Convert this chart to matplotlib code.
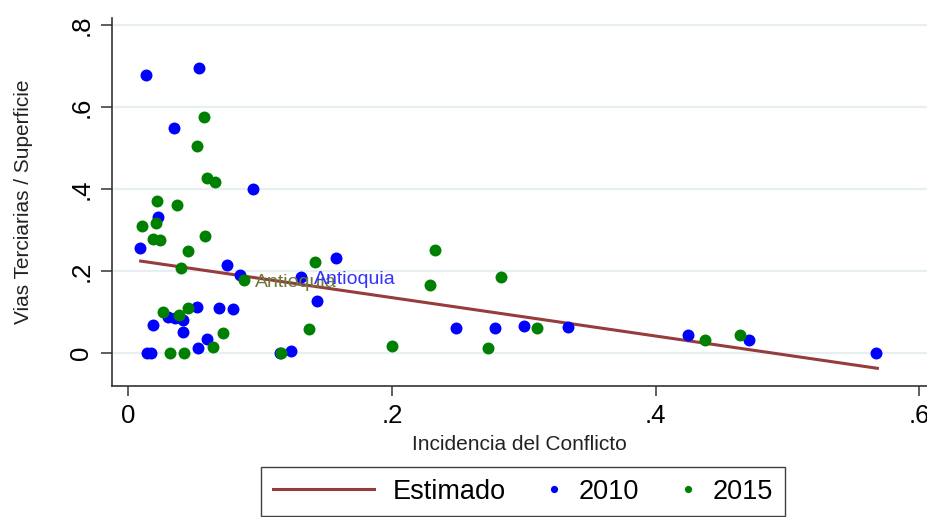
import numpy as np
import matplotlib
matplotlib.use("Agg")
import matplotlib.pyplot as plt
from matplotlib.legend_handler import HandlerLine2D

plt.rcParams["font.family"] = ["Liberation Sans", "DejaVu Sans"]

# 2010
x_2010 = [0.0134, 0.0536, 0.0347, 0.0945, 0.0223, 0.0089, 0.0746, 0.0847, 0.131, 0.1576,
          0.1429, 0.069, 0.0796, 0.0519, 0.0303, 0.0354, 0.0413, 0.0413, 0.019, 0.0599,
          0.0531, 0.014, 0.017, 0.115, 0.1232, 0.2486, 0.2781, 0.3004, 0.3338, 0.4243,
          0.4706, 0.5674]
y_2010 = [0.679, 0.696, 0.550, 0.401, 0.333, 0.256, 0.215, 0.191, 0.187, 0.232,
          0.128, 0.110, 0.108, 0.114, 0.089, 0.086, 0.081, 0.053, 0.069, 0.035,
          0.012, 0.0, 0.0, 0.0, 0.006, 0.061, 0.061, 0.067, 0.065, 0.045,
          0.032, 0.0]

# 2015
x_2015 = [0.0572, 0.0519, 0.0599, 0.0658, 0.022, 0.0367, 0.0102, 0.021, 0.0185, 0.024,
          0.0582, 0.0455, 0.040, 0.088, 0.0261, 0.0385, 0.0455, 0.0721, 0.064, 0.0316,
          0.0425, 0.1158, 0.1416, 0.2327, 0.2289, 0.1373, 0.1998, 0.2825, 0.2726, 0.3102,
          0.4375, 0.464]
y_2015 = [0.577, 0.506, 0.428, 0.417, 0.372, 0.362, 0.311, 0.317, 0.280, 0.276,
          0.286, 0.250, 0.207, 0.180, 0.101, 0.093, 0.110, 0.050, 0.016, 0.0,
          0.0, 0.0, 0.222, 0.252, 0.166, 0.059, 0.019, 0.187, 0.012, 0.061,
          0.032, 0.045]

# fitted line (Estimado)
est_x = [0.0094, 0.5682]
est_y = [0.225, -0.0366]

label_2010 = (0.131, 0.187)
label_2015 = (0.088, 0.180)

xticks = [0, 0.2, 0.4, 0.6]
xticklabels = ["0", ".2", ".4", ".6"]
yticks = [0, 0.2, 0.4, 0.6, 0.8]
yticklabels = ["0", ".2", ".4", ".6", ".8"]


class DotHandler(HandlerLine2D):
    def get_xdata(self, legend, xdescent, ydescent, width, height, fontsize):
        x = -xdescent + width - 0.25 * fontsize
        return np.array([x]), np.array([x])


def small_marker(legend_handle, orig_handle):
    legend_handle.update_from(orig_handle)
    legend_handle.set_markersize(5.2)


fig = plt.figure(figsize=(9.28, 5.17), dpi=100)
ax = fig.add_axes([0.1202, 0.254, 0.8798, 0.7112])

for t in yticks:
    ax.axhline(t, color="#e8eff2", lw=1.6, zorder=0)

line, = ax.plot(est_x, est_y, color="#963c3c", lw=2.2, zorder=2, label="Estimado")
blue, = ax.plot(x_2010, y_2010, "o", color="#0000ff", ms=8.6, mew=0, zorder=3, label="2010")
green, = ax.plot(x_2015, y_2015, "o", color="#008000", ms=8.6, mew=0, zorder=4, label="2015")

ax.annotate("Antioquia", label_2015, xytext=(8, -2), textcoords="offset points",
            va="center", ha="left", fontsize=14, color="#6b7b3a", zorder=5)
ax.annotate("Antioquia", label_2010, xytext=(9, -2), textcoords="offset points",
            va="center", ha="left", fontsize=14, color="#3333ff", zorder=6)

ax.set_xlim(-0.0127, 0.6066)
ax.set_ylim(-0.079, 0.818)

ax.set_xticks(xticks)
ax.set_xticklabels(xticklabels, fontsize=18.5)
ax.set_yticks(yticks)
ax.set_yticklabels(yticklabels, fontsize=18.5, rotation=90, va="center")
ax.tick_params(axis="x", length=7.5, width=1.1, pad=6, color="#333333")
ax.tick_params(axis="y", length=8, width=1.1, pad=5, color="#333333")

for side in ["top", "right"]:
    ax.spines[side].set_visible(False)
for side in ["left", "bottom"]:
    ax.spines[side].set_linewidth(1.2)
    ax.spines[side].set_color("#333333")

ax.set_xlabel("Incidencia del Conflicto", fontsize=15, color="#222222")
ax.xaxis.set_label_coords(0.5, -0.133)
ax.set_ylabel("Vias Terciarias / Superficie", fontsize=15, color="#222222")
ax.yaxis.set_label_coords(-0.096, 0.5)

leg = fig.legend(handles=[line, blue, green], loc="center",
                 bbox_to_anchor=(0.5636, 0.0493), ncol=3, fontsize=19.5,
                 handlelength=3.76, handletextpad=0.66, columnspacing=-1.7,
                 borderpad=0.42, borderaxespad=0, fancybox=False, framealpha=1,
                 handler_map={blue: DotHandler(update_func=small_marker),
                              green: DotHandler(update_func=small_marker)})
leg.get_frame().set_edgecolor("#404040")
leg.get_frame().set_linewidth(1.0)

fig.savefig("out.png", dpi=100)
